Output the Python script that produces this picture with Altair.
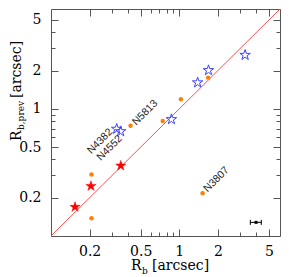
import altair as alt
import pandas as pd

# ---- data ----
orange_x = [0.207, 0.207, 0.417, 0.743, 1.03, 1.68, 1.52]
orange_y = [0.305, 0.138, 0.736, 0.804, 1.19, 1.76, 0.217]
blue_x = [0.325, 0.349, 0.869, 1.39, 1.69, 3.26]
blue_y = [0.695, 0.665, 0.827, 1.61, 2.01, 2.65]
red_x = [0.154, 0.205, 0.350]
red_y = [0.169, 0.247, 0.357]
line_x = [0.1, 6.1]
err_x = [3.97]
err_lo = [3.58]
err_hi = [4.36]
err_y = [0.128]
label_names = ["N4382", "N4552", "N5813", "N3807"]
label_x = [0.325, 0.349, 0.417, 1.52]
label_y = [0.695, 0.665, 0.736, 0.217]
major_ticks = [0.2, 0.5, 1, 2, 5]
minor_ticks = [0.3, 0.4, 0.6, 0.7, 0.8, 0.9, 3, 4]
domain = [0.1, 6.1]

W, H = 229, 227
FRAME = "#555555"
SERIF = "DejaVu Serif"
SANS = "Liberation Sans"
STAR = ("M0,-1L0.225,-0.309L0.951,-0.309L0.363,0.118L0.588,0.809L0,0.382"
        "L-0.588,0.809L-0.363,0.118L-0.951,-0.309L-0.225,-0.309Z")

def sc():
    return alt.Scale(type="log", domain=domain, nice=False)

def X(field, axis=None):
    return alt.X(field, type="quantitative", scale=sc(), axis=axis)

def Y(field, axis=None):
    return alt.Y(field, type="quantitative", scale=sc(), axis=axis)

line_df = pd.DataFrame({"x": line_x, "y": line_x})
orange_df = pd.DataFrame({"x": orange_x, "y": orange_y})
blue_df = pd.DataFrame({"x": blue_x, "y": blue_y})
red_df = pd.DataFrame({"x": red_x, "y": red_y})
err_df = pd.DataFrame({"x": err_x, "lo": err_lo, "hi": err_hi, "y": err_y})
cap_df = pd.DataFrame({"x": err_lo + err_hi, "y": err_y + err_y})
lab_df = pd.DataFrame({"name": label_names, "x": label_x, "y": label_y})
one = pd.DataFrame({"k": [0]})

diag = alt.Chart(line_df).mark_line(color="#ff3a3a", strokeWidth=0.9).encode(
    x=X("x"), y=Y("y"))

orange = alt.Chart(orange_df).mark_circle(color="#ff8000", opacity=1, size=20).encode(
    x=X("x"), y=Y("y"))

blue = alt.Chart(blue_df).mark_point(
    shape=STAR, size=120, filled=False, stroke="#4040ff", strokeWidth=1, opacity=1
).encode(x=X("x"), y=Y("y"))

red = alt.Chart(red_df).mark_point(
    shape=STAR, size=115, filled=True, fill="#ff0000", stroke="#ff0000",
    strokeWidth=0.5, opacity=1
).encode(x=X("x"), y=Y("y"))

err_rule = alt.Chart(err_df).mark_rule(color="black", strokeWidth=1).encode(
    x=X("lo"), x2="hi", y=Y("y"))
err_caps = alt.Chart(cap_df).mark_point(
    shape="M0,-1L0,1", size=25, stroke="black", strokeWidth=1, opacity=1
).encode(x=X("x"), y=Y("y"))
err_dot = alt.Chart(err_df).mark_square(color="black", size=9, opacity=1).encode(
    x=X("x"), y=Y("y"))

def label_layer(name, align, baseline, dx, dy):
    return alt.Chart(lab_df).transform_filter(
        alt.datum.name == name
    ).mark_text(
        font=SANS, fontSize=10.5, color="#222222", angle=315,
        align=align, baseline=baseline, dx=dx, dy=dy
    ).encode(x=X("x"), y=Y("y"), text="name:N")

labels = [
    label_layer("N4382", "right", "middle", -5, -3),
    label_layer("N4552", "right", "middle", -4, 4),
    label_layer("N5813", "left", "middle", 4, 1),
    label_layer("N3807", "left", "middle", 4, 0),
]

def title_text(txt, x, y, size, angle=0):
    return alt.Chart(one).mark_text(
        font=SERIF, fontSize=size, color="black", align="left",
        baseline="alphabetic", angle=angle
    ).encode(x=alt.value(x), y=alt.value(y), text=alt.value(txt))

titles = [
    title_text("R", 80, 261, 14),
    title_text("b", 91, 265, 9),
    title_text("[arcsec]", 101, 261, 14),
    title_text("R", -30, 132, 14, 270),
    title_text("b,prev", -27, 121, 9, 270),
    title_text("[arcsec]", -30, 89, 14, 270),
]

inner = alt.layer(diag, orange, blue, red, err_rule, err_caps, err_dot,
                  *labels, *titles)

# tick labels axes (no ticks)
x_lab_axis = alt.Axis(orient="bottom", values=major_ticks, ticks=False,
                      domain=False, grid=False, title=None, labelFont=SERIF,
                      labelFontSize=14, labelColor="black", labelOverlap=False,
                      labelPadding=8, format="~g")
y_lab_axis = alt.Axis(orient="left", values=major_ticks, ticks=False,
                      domain=False, grid=False, title=None, labelFont=SERIF,
                      labelFontSize=14, labelColor="black", labelOverlap=False,
                      labelPadding=10, format="~g")
label_axes = alt.Chart(line_df).mark_point(opacity=0).encode(
    x=X("x", x_lab_axis), y=Y("y", y_lab_axis))

all_ticks = sorted(major_ticks + minor_ticks)
tick_size = {
    "condition": {"test": "indexof([0.2, 0.5, 1, 2, 5], datum.value) >= 0", "value": 7},
    "value": 4,
}

def tick_axis(orient, offset):
    return alt.Axis(orient=orient, offset=offset, values=all_ticks, labels=False,
                    domain=False, grid=False, title=None, ticks=True,
                    tickSize=tick_size, tickColor=FRAME, tickWidth=1)

# inward ticks on bottom & left edges
ticks_bl = alt.Chart(line_df).mark_point(opacity=0).encode(
    x=X("x", tick_axis("top", -H)), y=Y("y", tick_axis("right", -W)))
# inward ticks on top & right edges
ticks_tr = alt.Chart(line_df).mark_point(opacity=0).encode(
    x=X("x", tick_axis("bottom", -H)), y=Y("y", tick_axis("left", -W)))

chart = alt.layer(inner, label_axes, ticks_bl, ticks_tr).resolve_scale(
    x="independent", y="independent"
).properties(
    width=W, height=H,
    autosize=alt.AutoSizeParams(type="none"),
    padding={"left": 43, "top": 1, "right": 1, "bottom": 41},
    background="white",
).configure_view(stroke=FRAME, strokeWidth=1)

chart.save("out.html", embed_options={"renderer": "svg", "actions": False})
